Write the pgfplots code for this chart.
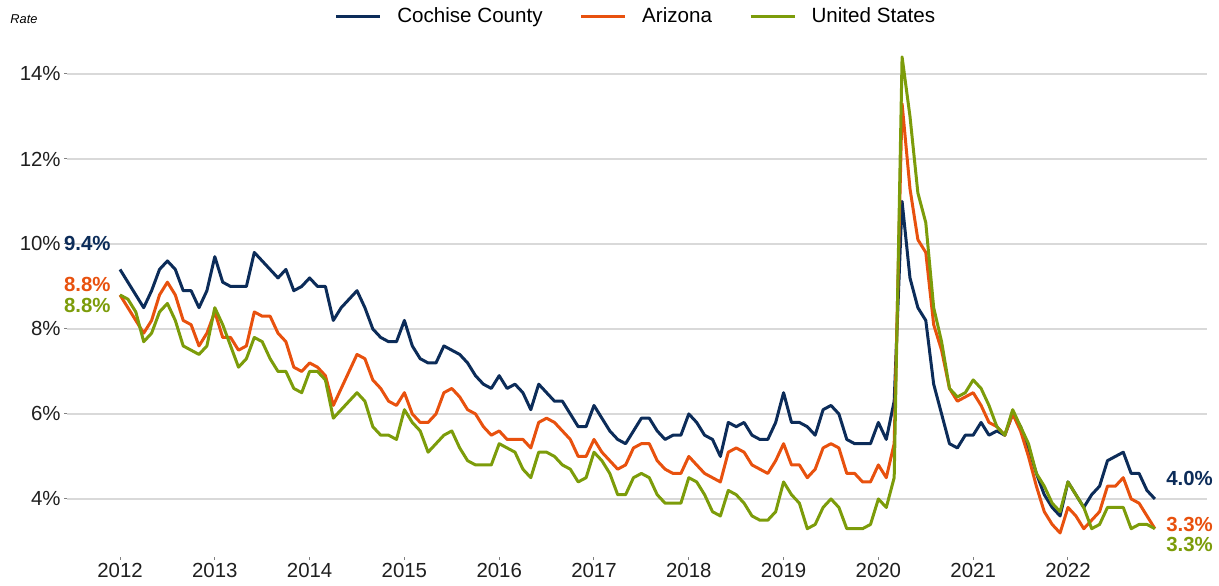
\documentclass[border=0pt]{standalone}
\usepackage{pgfplots}
\pgfplotsset{compat=1.18}
\usepackage{pgfplotstable}
\usepackage{fontspec}
\setmainfont{Liberation Sans}
\definecolor{cnavy}{RGB}{12,44,89}
\definecolor{corange}{RGB}{232,81,14}
\definecolor{cgreen}{RGB}{124,156,10}
\definecolor{cgrid}{RGB}{217,217,217}
\pgfplotstableread{
m c a u
0 9.4 8.8 8.8
1 9.1 8.5 8.7
2 8.8 8.2 8.4
3 8.5 7.9 7.7
4 8.9 8.2 7.9
5 9.4 8.8 8.4
6 9.6 9.1 8.6
7 9.4 8.8 8.2
8 8.9 8.2 7.6
9 8.9 8.1 7.5
10 8.5 7.6 7.4
11 8.9 7.9 7.6
12 9.7 8.4 8.5
13 9.1 7.8 8.1
14 9.0 7.8 7.6
15 9.0 7.5 7.1
16 9.0 7.6 7.3
17 9.8 8.4 7.8
18 9.6 8.3 7.7
19 9.4 8.3 7.3
20 9.2 7.9 7.0
21 9.4 7.7 7.0
22 8.9 7.1 6.6
23 9.0 7.0 6.5
24 9.2 7.2 7.0
25 9.0 7.1 7.0
26 9.0 6.9 6.8
27 8.2 6.2 5.9
28 8.5 6.6 6.1
29 8.7 7.0 6.3
30 8.9 7.4 6.5
31 8.5 7.3 6.3
32 8.0 6.8 5.7
33 7.8 6.6 5.5
34 7.7 6.3 5.5
35 7.7 6.2 5.4
36 8.2 6.5 6.1
37 7.6 6.0 5.8
38 7.3 5.8 5.6
39 7.2 5.8 5.1
40 7.2 6.0 5.3
41 7.6 6.5 5.5
42 7.5 6.6 5.6
43 7.4 6.4 5.2
44 7.2 6.1 4.9
45 6.9 6.0 4.8
46 6.7 5.7 4.8
47 6.6 5.5 4.8
48 6.9 5.6 5.3
49 6.6 5.4 5.2
50 6.7 5.4 5.1
51 6.5 5.4 4.7
52 6.1 5.2 4.5
53 6.7 5.8 5.1
54 6.5 5.9 5.1
55 6.3 5.8 5.0
56 6.3 5.6 4.8
57 6.0 5.4 4.7
58 5.7 5.0 4.4
59 5.7 5.0 4.5
60 6.2 5.4 5.1
61 5.9 5.1 4.9
62 5.6 4.9 4.6
63 5.4 4.7 4.1
64 5.3 4.8 4.1
65 5.6 5.2 4.5
66 5.9 5.3 4.6
67 5.9 5.3 4.5
68 5.6 4.9 4.1
69 5.4 4.7 3.9
70 5.5 4.6 3.9
71 5.5 4.6 3.9
72 6.0 5.0 4.5
73 5.8 4.8 4.4
74 5.5 4.6 4.1
75 5.4 4.5 3.7
76 5.0 4.4 3.6
77 5.8 5.1 4.2
78 5.7 5.2 4.1
79 5.8 5.1 3.9
80 5.5 4.8 3.6
81 5.4 4.7 3.5
82 5.4 4.6 3.5
83 5.8 4.9 3.7
84 6.5 5.3 4.4
85 5.8 4.8 4.1
86 5.8 4.8 3.9
87 5.7 4.5 3.3
88 5.5 4.7 3.4
89 6.1 5.2 3.8
90 6.2 5.3 4.0
91 6.0 5.2 3.8
92 5.4 4.6 3.3
93 5.3 4.6 3.3
94 5.3 4.4 3.3
95 5.3 4.4 3.4
96 5.8 4.8 4.0
97 5.4 4.5 3.8
98 6.3 5.3 4.5
99 11.0 13.3 14.4
100 9.2 11.3 13.0
101 8.5 10.1 11.2
102 8.2 9.8 10.5
103 6.7 8.1 8.5
104 6.0 7.5 7.7
105 5.3 6.6 6.6
106 5.2 6.3 6.4
107 5.5 6.4 6.5
108 5.5 6.5 6.8
109 5.8 6.2 6.6
110 5.5 5.8 6.2
111 5.6 5.7 5.7
112 5.5 5.5 5.5
113 6.0 6.0 6.1
114 5.7 5.6 5.7
115 5.2 5.0 5.3
116 4.6 4.3 4.6
117 4.1 3.7 4.3
118 3.8 3.4 3.9
119 3.6 3.2 3.7
120 4.4 3.8 4.4
121 4.1 3.6 4.1
122 3.8 3.3 3.8
123 4.1 3.5 3.3
124 4.3 3.7 3.4
125 4.9 4.3 3.8
126 5.0 4.3 3.8
127 5.1 4.5 3.8
128 4.6 4.0 3.3
129 4.6 3.9 3.4
130 4.2 3.6 3.4
131 4.0 3.3 3.3
}\rates
\begin{document}
\begin{tikzpicture}
\begin{axis}[
  scale only axis,
  width=570pt, height=254.25pt,
  xmin=-6.71, xmax=137.6,
  ymin=2.635, ymax=14.6,
  axis lines=left,
  axis line style={draw=none},
  clip=false,
  xtick={0,12,24,36,48,60,72,84,96,108,120},
  xticklabels={2012,2013,2014,2015,2016,2017,2018,2019,2020,2021,2022},
  ytick={4,6,8,10,12,14},
  yticklabels={4\%,6\%,8\%,10\%,12\%,14\%},
  ymajorgrids,
  grid style={cgrid, line width=0.8pt},
  tick align=outside,
  major tick length=1.5pt,
  tick style={color=gray, line width=0.5pt},
  ticklabel style={font=\fontsize{10.2}{12}\selectfont, text=black!88},
  yticklabel style={inner sep=0pt, xshift=-1.5pt},
  xticklabel style={inner sep=0pt, yshift=-1.5pt},
  legend style={at={(0.5,1.0619)}, anchor=center, draw=none, fill=none,
    legend columns=3, font=\fontsize{10.3}{12}\selectfont,
    /tikz/every even column/.append style={column sep=16.5pt}},
  legend image code/.code={\draw[#1] (0pt,0pt) -- (22pt,0pt); \path[draw=none] (22pt,0pt) -- (28.5pt,0pt);},
  every axis plot/.append style={line width=1.5pt, line join=round},
]
\path (axis description cs:-0.05877,-0.05703) rectangle (axis description cs:1.01053,1.09145);
\addplot[cnavy] table[x=m, y=c] {\rates};
\addlegendentry{Cochise County}
\addplot[corange] table[x=m, y=a] {\rates};
\addlegendentry{Arizona}
\addplot[cgreen] table[x=m, y=u] {\rates};
\addlegendentry{United States}
\node[anchor=west, inner sep=0pt, font=\fontsize{6.4}{7}\selectfont\itshape] at (axis description cs:-0.05,1.058) {Rate};
\node[anchor=east, inner sep=0pt, text=cnavy, font=\fontsize{10.2}{12}\selectfont\bfseries] at (axis cs:-1.14,10.02) {9.4\%};
\node[anchor=east, inner sep=0pt, text=corange, font=\fontsize{10.2}{12}\selectfont\bfseries] at (axis cs:-1.14,9.04) {8.8\%};
\node[anchor=east, inner sep=0pt, text=cgreen, font=\fontsize{10.2}{12}\selectfont\bfseries] at (axis cs:-1.14,8.56) {8.8\%};
\node[anchor=west, inner sep=0pt, text=cnavy, font=\fontsize{10.2}{12}\selectfont\bfseries] at (axis cs:132.4,4.47) {4.0\%};
\node[anchor=west, inner sep=0pt, text=corange, font=\fontsize{10.2}{12}\selectfont\bfseries] at (axis cs:132.4,3.41) {3.3\%};
\node[anchor=west, inner sep=0pt, text=cgreen, font=\fontsize{10.2}{12}\selectfont\bfseries] at (axis cs:132.4,2.92) {3.3\%};
\end{axis}
\end{tikzpicture}
\end{document}
